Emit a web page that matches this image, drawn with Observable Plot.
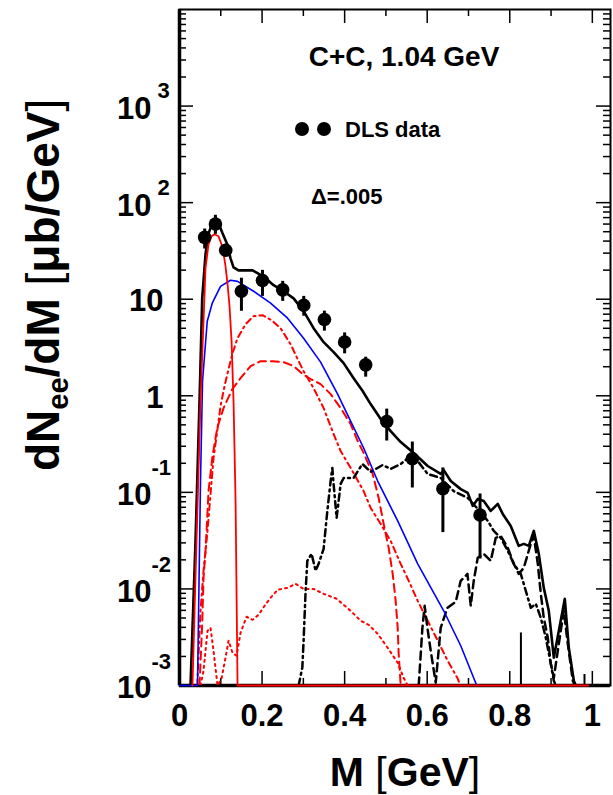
<!DOCTYPE html>
<html><head><meta charset="utf-8">
<script src="https://cdn.jsdelivr.net/npm/d3@7"></script>
<script src="https://cdn.jsdelivr.net/npm/@observablehq/plot@0.6"></script>
<style>
body{margin:0;background:#fff}
svg{font-family:"Liberation Sans",Arial,sans-serif}
</style>
</head><body><div id="chart"></div>
<script>
// ---- DLS data points ----
const dlsM  = [0.061, 0.087, 0.112, 0.150, 0.201, 0.250, 0.301, 0.351, 0.400, 0.451, 0.502, 0.564, 0.638, 0.728];
const dlsV  = [43.7, 60.1, 32.1, 12.1, 15.6, 12.5, 8.67, 6.17, 3.61, 2.09, 0.541, 0.223, 0.109, 0.0583];
const dlsLo = [33.1, 47.0, 27.9, 7.5, 10.7, 9.5, 6.67, 4.67, 2.72, 1.56, 0.340, 0.111, 0.0383, 0.0204];
const dlsHi = [53.3, 74.0, 37.0, 16.5, 19.9, 15.3, 10.7, 7.52, 4.48, 2.51, 0.728, 0.332, 0.179, 0.0962];

// ---- total (black solid) ----
const totalM = [0.0267,0.0388,0.0485,0.0550,0.0630,0.0703,0.0776,0.0873,0.0945,0.1042,0.1156,0.1236,0.1309,0.1430,0.1770,0.1891,0.2085,0.2279,0.2521,0.2764,0.3006,0.3248,0.3491,0.3733,0.3976,0.4218,0.4436,0.4630,0.4873,0.5115,0.5358,0.5673,0.6012,0.6327,0.6400,0.6570,0.6812,0.6982,0.7103,0.7224,0.7370,0.7539,0.7709,0.7830,0.8024,0.8218,0.8339,0.8461,0.8582,0.8703,0.8824,0.8945,0.9067,0.9333,0.9430,0.9552,0.9600];
const totalV = [0.001,0.0314,0.882,10.2,29.2,48.1,58.2,64.1,61.1,48.1,37.1,26.5,21.4,19.9,19.9,18.6,16.5,13.96,12.1,10.2,7.52,5.01,3.59,2.83,2.18,1.52,1.12,0.821,0.574,0.431,0.332,0.256,0.1875,0.155,0.170,0.131,0.108,0.0986,0.0724,0.0855,0.0815,0.0642,0.0759,0.0598,0.0449,0.0279,0.0293,0.0279,0.0399,0.0231,0.01026,0.00594,0.00194,0.0079,0.00246,0.00112,0.001];

// ---- pi0 Dalitz (red solid) ----
const pi0M = [0.0315,0.0412,0.0509,0.0582,0.0630,0.0703,0.0776,0.0848,0.0945,0.1018,0.1067,0.1115,0.1164,0.1212,0.1261,0.1309,0.1358,0.1406,0.990];
const pi0V = [0.001,0.0314,0.881,5.92,20.9,37.1,44.8,47.0,44.8,37.1,29.9,21.9,14.3,8.47,3.68,0.881,0.0815,0.001,0.001];

// ---- eta Dalitz (blue solid) ----
const etaM = [0,0.0436,0.0509,0.0558,0.0672,0.0793,0.0994,0.1236,0.1406,0.1794,0.2206,0.2618,0.3006,0.3418,0.3830,0.4145,0.4461,0.4800,0.5285,0.5770,0.6400,0.6812,0.7200];
const etaV = [0.001,0.001,0.131,1.42,5.92,9.09,13.6,15.7,15.3,12.1,9.09,6.36,3.95,2.23,1.04,0.547,0.288,0.131,0.0506,0.0182,0.00594,0.00258,0.001];

// ---- red dash-dot ----
const rdM = [0.043,0.0509,0.0582,0.0672,0.0752,0.0824,0.0914,0.0994,0.1091,0.1188,0.1285,0.1406,0.1600,0.1794,0.2012,0.2230,0.2448,0.2691,0.2861,0.3006,0.3248,0.3491,0.3733,0.3903,0.4145,0.4461,0.4630,0.4873,0.5115,0.5358,0.5552,0.5770,0.6012,0.6255,0.6497,0.6739,0.6800];
const rdV = [0.001,0.00594,0.0154,0.0372,0.0963,0.227,0.431,0.782,1.26,1.89,2.76,3.95,5.51,6.67,6.83,6.07,5.01,3.42,2.40,1.80,1.20,0.746,0.402,0.268,0.179,0.103,0.069,0.0471,0.0314,0.0182,0.01213,0.00753,0.00468,0.00291,0.0018,0.00118,0.001];

// ---- red dashed ----
const rsM = [0.0485,0.0550,0.0582,0.0630,0.0672,0.0703,0.0800,0.0914,0.1067,0.1278,0.1479,0.1721,0.1964,0.2255,0.2521,0.2764,0.2982,0.3176,0.3418,0.3661,0.3903,0.4145,0.4315,0.4461,0.4679,0.4824,0.4945,0.5067,0.5164,0.5236,0.5285,0.5309,0.5358];
const rsV = [0.001,0.00436,0.0130,0.0248,0.0544,0.103,0.238,0.463,0.746,1.17,1.52,2.03,2.28,2.28,2.23,2.03,1.68,1.49,1.32,1.04,0.746,0.510,0.340,0.256,0.155,0.0875,0.0471,0.0266,0.0143,0.00753,0.00396,0.00213,0.001];

// ---- red dotted ----
const rpM = [0.0509,0.0582,0.0679,0.0752,0.0824,0.0921,0.1018,0.1115,0.1188,0.1285,0.1382,0.1479,0.1624,0.1770,0.1915,0.2061,0.2206,0.2376,0.2618,0.2812,0.3006,0.3248,0.3491,0.3806,0.4145,0.4388,0.4582,0.4800,0.5042,0.5285,0.5430,0.5527];
const rpV = [0.001,0.00142,0.00369,0.00396,0.00229,0.001,0.00118,0.00194,0.00291,0.00218,0.00203,0.00352,0.00515,0.00479,0.0054,0.00669,0.00809,0.00979,0.01026,0.0113,0.0100,0.0100,0.0089,0.0079,0.00594,0.00468,0.00425,0.00343,0.00246,0.00172,0.0012,0.001];

// ---- black dash-dot ----
const bdM = [0.2885,0.2975,0.3006,0.3055,0.3096,0.3200,0.3297,0.3370,0.3491,0.3581,0.3661,0.3702,0.3733,0.3806,0.3903,0.3976,0.4218,0.4429,0.4630,0.4921,0.5115,0.5358,0.5600,0.5770,0.6012,0.6327,0.6642,0.6982,0.7224,0.7467,0.7612,0.7782,0.7952,0.8097,0.8267,0.8388,0.8509,0.8630,0.8752,0.8873,0.8994,0.9067,0.9115];
const bdV = [0.001,0.00153,0.00291,0.00956,0.0195,0.0231,0.0154,0.0182,0.026,0.0642,0.131,0.179,0.122,0.0544,0.122,0.141,0.141,0.197,0.163,0.192,0.175,0.197,0.238,0.211,0.155,0.141,0.103,0.0875,0.0674,0.0506,0.0399,0.0338,0.0248,0.0182,0.0143,0.00956,0.00638,0.00702,0.00502,0.00312,0.00168,0.00112,0.001];

// ---- black dashed ----
const bsM = [0.5794,0.5884,0.5939,0.6005,0.6085,0.6206,0.6327,0.6490,0.6691,0.6812,0.6975,0.7055,0.7127,0.7224,0.7370,0.7539,0.7661,0.7782,0.7952,0.8097,0.8218,0.8339,0.8509,0.8582,0.8679,0.8752,0.8824,0.8921,0.8994,0.9067,0.9188,0.9309,0.9406,0.9527,0.9576];
const bsV = [0.001,0.00396,0.00669,0.00396,0.00229,0.00107,0.00396,0.00638,0.00735,0.01213,0.0143,0.00669,0.01213,0.021,0.0231,0.0195,0.0338,0.0354,0.0266,0.0182,0.0143,0.0165,0.0293,0.0354,0.0182,0.0089,0.00502,0.00312,0.00168,0.0012,0.0027,0.00594,0.0027,0.00112,0.001];

// ---- isolated spikes ----
const spikeM = [0.827, 0.981];
const spikeTop = [0.0035, 0.0013];

// ---- axes ----
const FLOOR = 0.001;
const xMajor = [0, 0.2, 0.4, 0.6, 0.8, 1.0];
const xMinor = [0.1, 0.3, 0.5, 0.7, 0.9];
const xLabels = ["0", "0.2", "0.4", "0.6", "0.8", "1"];
const yMajor = [1e-3, 1e-2, 1e-1, 1, 10, 100, 1000];
const yBase = ["10", "10", "10", "1", "10", "10", "10"];
const yExp = ["-3", "-2", "-1", "", "", "2", "3"];
const yMinor = [];
for (let d = -3; d <= 3; d++) for (let k = 2; k <= 9; k++) yMinor.push(k * Math.pow(10, d));

const zip = (M, V) => M.map((m, i) => ({M: m, v: V[i]}));
const pts = dlsM.map((m, i) => ({M: m, v: dlsV[i], lo: dlsLo[i], hi: dlsHi[i]}));
const spikes = spikeM.map((m, i) => ({M: m, lo: FLOOR, hi: spikeTop[i]}));
const yLab = yMajor.map((v, i) => ({v, base: yBase[i], exp: yExp[i], neg: yExp[i].startsWith("-")}));
const xLab = xMajor.map((v, i) => ({v, t: xLabels[i]}));

const W = 613, H = 795, mL = 179, mR = 3, mT = 9, mB = 110;
const fw = W - mL - mR, fh = H - mT - mB;

const plot = Plot.plot({
  width: W, height: H,
  marginLeft: mL, marginRight: mR, marginTop: mT, marginBottom: mB,
  x: {domain: [0, 1.044], axis: null},
  y: {type: "log", domain: [1e-3, 1e4], axis: null},
  style: {fontFamily: "Liberation Sans, Arial, sans-serif", background: "white", color: "black"},
  marks: [
    Plot.frame({stroke: "black", strokeWidth: 2}),
    // ticks (inward)
    Plot.tickX(xMajor, {x: d => d, insetTop: fh - 14, stroke: "black", strokeWidth: 1.5}),
    Plot.tickX(xMinor, {x: d => d, insetTop: fh - 7, stroke: "black", strokeWidth: 1.5}),
    Plot.tickX(xMajor, {x: d => d, insetBottom: fh - 14, stroke: "black", strokeWidth: 1.5}),
    Plot.tickX(xMinor, {x: d => d, insetBottom: fh - 7, stroke: "black", strokeWidth: 1.5}),
    Plot.tickY(yMajor, {y: d => d, insetRight: fw - 14, stroke: "black", strokeWidth: 1.5}),
    Plot.tickY(yMinor, {y: d => d, insetRight: fw - 7, stroke: "black", strokeWidth: 1.5}),
    Plot.tickY(yMajor, {y: d => d, insetLeft: fw - 14, stroke: "black", strokeWidth: 1.5}),
    Plot.tickY(yMinor, {y: d => d, insetLeft: fw - 7, stroke: "black", strokeWidth: 1.5}),
    Plot.ruleX([0], {stroke: "black", strokeWidth: 3.5}),
    Plot.ruleY([FLOOR], {stroke: "black", strokeWidth: 3.5}),
    // curves
    Plot.line(zip(rpM, rpV), {x: "M", y: "v", stroke: "#ff0000", strokeWidth: 2, strokeDasharray: "2,4", clip: true}),
    Plot.line(zip(rsM, rsV), {x: "M", y: "v", stroke: "#ff0000", strokeWidth: 2, strokeDasharray: "8,5", clip: true}),
    Plot.line(zip(rdM, rdV), {x: "M", y: "v", stroke: "#ff0000", strokeWidth: 2, strokeDasharray: "6,4,2,4", clip: true}),
    Plot.line(zip(bdM, bdV), {x: "M", y: "v", stroke: "black", strokeWidth: 2.5, strokeDasharray: "7,4,2,4", clip: true}),
    Plot.line(zip(bsM, bsV), {x: "M", y: "v", stroke: "black", strokeWidth: 2.5, strokeDasharray: "8,5", clip: true}),
    Plot.ruleX(spikes, {x: "M", y1: "lo", y2: "hi", stroke: "black", strokeWidth: 2}),
    Plot.line(zip(totalM, totalV), {x: "M", y: "v", stroke: "black", strokeWidth: 2.6}),
    Plot.line(zip(etaM, etaV), {x: "M", y: "v", stroke: "#0000ff", strokeWidth: 1.6}),
    Plot.line(zip(pi0M, pi0V), {x: "M", y: "v", stroke: "#ff0000", strokeWidth: 1.8}),
    // data
    Plot.ruleX(pts, {x: "M", y1: "lo", y2: "hi", stroke: "black", strokeWidth: 3}),
    Plot.dot(pts, {x: "M", y: "v", r: 6.8, fill: "black", stroke: "none"}),
    // tick labels
    Plot.text(xLab, {x: "v", text: "t", frameAnchor: "bottom", dy: 40, fontSize: 31, fontWeight: "bold", fill: "black"}),
    Plot.text(yLab.filter(d => d.exp), {y: "v", text: "base", frameAnchor: "left", textAnchor: "end", dx: -28, dy: 3, fontSize: 31, fontWeight: "bold", fill: "black"}),
    Plot.text(yLab.filter(d => !d.exp), {y: "v", text: "base", frameAnchor: "left", textAnchor: "end", dx: -16, dy: 2, fontSize: 31, fontWeight: "bold", fill: "black"}),
    Plot.text(yLab.filter(d => d.exp && !d.neg), {y: "v", text: "exp", frameAnchor: "left", textAnchor: "start", dx: -22, dy: -15, fontSize: 22, fontWeight: "bold", fill: "black"}),
    Plot.text(yLab.filter(d => d.neg), {y: "v", text: "exp", frameAnchor: "left", textAnchor: "start", dx: -28, dy: -24, fontSize: 22, fontWeight: "bold", fill: "black"})
  ]
});
document.getElementById("chart").appendChild(plot);

// ---- titles and annotations ----
const svg = d3.select(plot);
const yt = svg.append("text")
  .attr("transform", "translate(59,471) rotate(-90)").attr("text-anchor", "start")
  .attr("font-size", 46).attr("font-weight", "bold").attr("fill", "black");
yt.append("tspan").text("dN");
yt.append("tspan").attr("font-size", 29).attr("dy", 9).text("ee");
yt.append("tspan").attr("dy", -9).text("/dM ");
yt.append("tspan").attr("font-weight", "normal").text("[");
yt.append("tspan").text("\u03bcb/GeV");
yt.append("tspan").attr("font-weight", "normal").text("]");

const xt = svg.append("text")
  .attr("x", 405).attr("y", 786).attr("text-anchor", "middle")
  .attr("font-size", 41).attr("font-weight", "bold").attr("fill", "black");
xt.append("tspan").text("M ");
xt.append("tspan").attr("font-weight", "normal").text("[");
xt.append("tspan").text("GeV");
xt.append("tspan").attr("font-weight", "normal").text("]");

svg.append("text").attr("x", 404).attr("y", 66).attr("text-anchor", "middle")
  .attr("font-size", 28).attr("font-weight", "bold").attr("fill", "black").text("C+C, 1.04 GeV");
svg.append("circle").attr("cx", 302).attr("cy", 129).attr("r", 7).attr("fill", "black");
svg.append("circle").attr("cx", 324).attr("cy", 129).attr("r", 7).attr("fill", "black");
svg.append("text").attr("x", 345).attr("y", 137).attr("text-anchor", "start").attr("font-size", 22).attr("font-weight", "bold")
  .attr("fill", "black").text("DLS data");
svg.append("text").attr("x", 311).attr("y", 204).attr("text-anchor", "start").attr("font-size", 22).attr("font-weight", "bold")
  .attr("fill", "black").text("\u0394=.005");
</script>
</body></html>
